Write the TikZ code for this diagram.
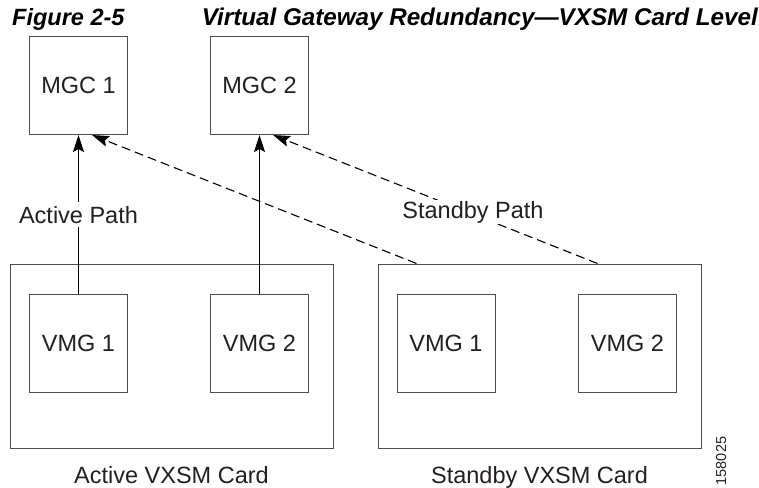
\documentclass[tikz,border=0pt]{standalone}
\usepackage{fontspec}
\setmainfont{Liberation Sans}
\usetikzlibrary{arrows.meta}
\definecolor{ink}{HTML}{231F20}
\definecolor{edge}{HTML}{4D4D4D}
\tikzset{
  box/.style={draw=edge, line width=1pt, inner sep=0pt, minimum width=98pt, minimum height=98pt,
              font=\fontsize{23.5}{28}\selectfont, text=ink},
  card/.style={draw=edge, line width=1pt, inner sep=0pt, minimum width=323pt, minimum height=184pt},
  lbl/.style={font=\fontsize{23.5}{28}\selectfont, text=ink, inner sep=0pt},
  pathlbl/.style={font=\fontsize{23.5}{28}\selectfont, text=ink, fill=white},
  title/.style={font=\fontsize{23.5}{28}\selectfont\bfseries\itshape, text=black, inner sep=0pt},
  tip/.style={-{Stealth[length=17pt, width=11pt, inset=3pt]}},
  activeline/.style={tip, draw=black, line width=1.1pt},
  standbyline/.style={tip, draw=black, line width=1.1pt, dash pattern=on 9pt off 5pt},
}
\begin{document}
\begin{tikzpicture}[x=1pt, y=-1pt]
\useasboundingbox (0,0) rectangle (759,487);
% title
\node[title, anchor=base west] (fig) at (12,26) {Figure 2-5};
\node[title, font=\fontsize{24.2}{28}\selectfont\bfseries\itshape, anchor=base east] (ttl) at (758,26) {Virtual Gateway Redundancy---VXSM Card Level};
% cards
\node[card] (acard) at (171.5,356) {};
\node[card] (scard) at (539.5,356) {};
% boxes
\node[box] (mgc1) at (78.5,85.5) {MGC 1};
\node[box] (mgc2) at (259.5,85.5) {MGC 2};
\node[box] (avmg1) at (78.5,343) {VMG 1};
\node[box] (avmg2) at (259.5,343) {VMG 2};
\node[box] (svmg1) at (446,343) {VMG 1};
\node[box] (svmg2) at (627.5,343) {VMG 2};
% card labels
\node[lbl, anchor=base] (alab) at (171.5,483) {Active VXSM Card};
\node[lbl, anchor=base] (slab) at (539.5,483) {Standby VXSM Card};
\node[font=\fontsize{14.5}{17}\selectfont, text=ink, inner sep=0pt, rotate=90] (num) at (721,461) {158025};
% connectors
\coordinate (s1) at ([xshift=39pt]scard.north west);
\coordinate (s2) at ([xshift=220pt]scard.north west);
\coordinate (m1) at ([xshift=13.5pt]mgc1.south);
\coordinate (m2) at ([xshift=13.5pt]mgc2.south);
\draw[activeline] (avmg1.north) -- (mgc1.south);
\draw[activeline] (avmg2.north) -- (mgc2.south);
\draw[standbyline] (s1) -- (m1);
\draw[standbyline] (s2) -- (m2);
% path labels
\node[pathlbl, inner sep=3.5pt, anchor=base] (apath) at (78.5,223) {Active Path};
\node[pathlbl, inner sep=1pt, anchor=base] (spath) at (473,218) {Standby Path};
\end{tikzpicture}
\end{document}
